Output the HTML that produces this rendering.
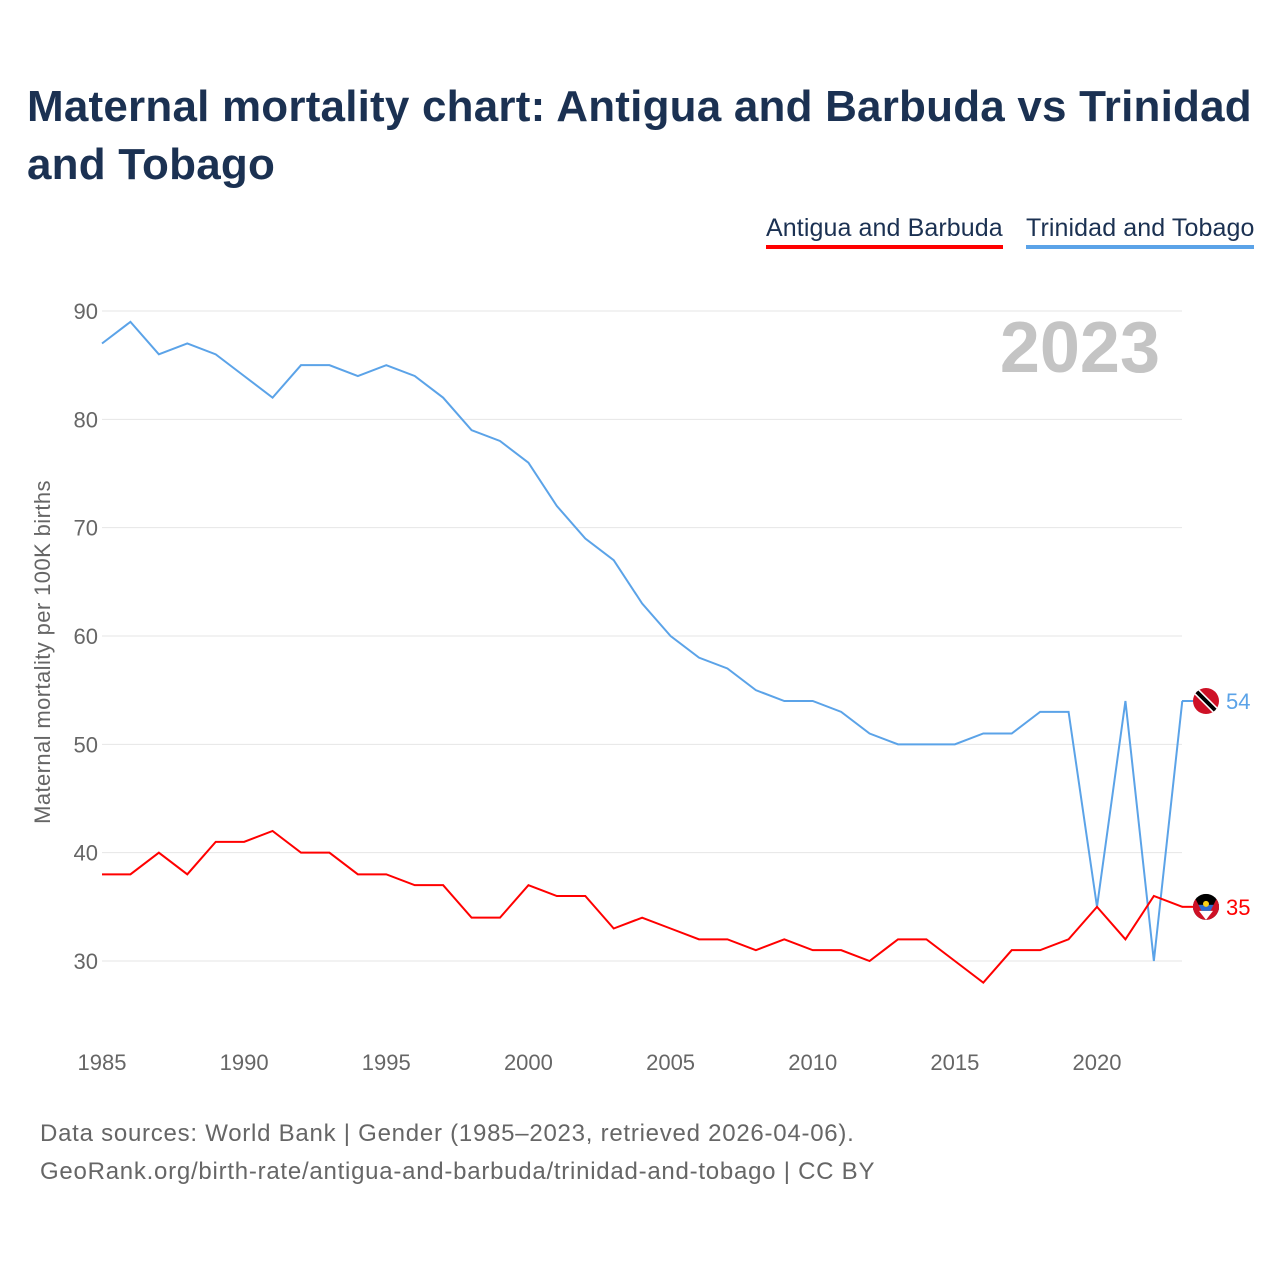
<!DOCTYPE html>
<html><head><meta charset="utf-8"><style>
body{margin:0;background:#fff;font-family:"Liberation Sans",sans-serif;}
#wrap{position:relative;width:1280px;height:1280px;overflow:hidden}
h1{position:absolute;left:27px;top:78px;margin:0;font-size:44px;line-height:58px;color:#1b3152;font-weight:bold;width:1240px;letter-spacing:0.2px}
.leg{position:absolute;top:214px;font-size:25px;color:#1b3152;padding-bottom:2px;letter-spacing:0.1px}
.src{position:absolute;left:40px;font-size:24px;color:#666;letter-spacing:0.75px}
</style></head><body><div id="wrap">
<h1>Maternal mortality chart: Antigua and Barbuda vs Trinidad and Tobago</h1>
<div class="leg" style="left:766px;border-bottom:4px solid #f00">Antigua and Barbuda</div>
<div class="leg" style="left:1026px;border-bottom:4px solid #5ba3e8">Trinidad and Tobago</div>
<svg id="svg" width="1280" height="1280" style="position:absolute;left:0;top:0"></svg>
<div class="src" style="top:1120px">Data sources: World Bank | Gender (1985–2023, retrieved 2026-04-06).</div>
<div class="src" style="top:1158px">GeoRank.org/birth-rate/antigua-and-barbuda/trinidad-and-tobago | CC BY</div>
</div>
<script>
const years=[];for(let y=1985;y<=2023;y++)years.push(y);
const trinidad=[87,89,86,87,86,84,82,85,85,84,85,84,82,79,78,76,72,69,67,63,60,58,57,55,54,54,53,51,50,50,50,51,51,53,53,35,54,30,54];
const antigua=[38,38,40,38,41,41,42,40,40,38,38,37,37,34,34,37,36,36,33,34,33,32,32,31,32,31,31,30,32,32,30,28,31,31,32,35,32,36,35];
const yTicks=[30,40,50,60,70,80,90];
const xTicks=[1985,1990,1995,2000,2005,2010,2015,2020];
const NS="http://www.w3.org/2000/svg";const svg=document.getElementById('svg');
const X=y=>102+(y-1985)*(995/35);const Y=v=>961-(v-30)*(650/60);
function mk(t,a,txt,parent){const e=document.createElementNS(NS,t);for(const k in a)e.setAttribute(k,a[k]);if(txt!=null)e.textContent=txt;(parent||svg).appendChild(e);return e;}
yTicks.forEach(v=>{
 const l=mk('line',{x1:102,x2:1182,y1:Y(v),y2:Y(v),stroke:'#e6e6e6','stroke-width':1});
 
 
 const t=mk('text',{x:98,y:Y(v)+8,'text-anchor':'end','font-size':22,fill:'#666'},v);
 
 
});
xTicks.forEach(v=>{
 const t=mk('text',{x:X(v),y:1070,'text-anchor':'middle','font-size':22,fill:'#666'},v);
 
 
});
const yt=mk('text',{x:0,y:0,transform:'translate(50,652) rotate(-90)','text-anchor':'middle','font-size':22,fill:'#666','letter-spacing':'0.4'},'Maternal mortality per 100K births');


const yr=mk('text',{x:1160,y:372,'text-anchor':'end','font-size':72,'font-weight':'bold',fill:'#c4c4c4'},'2023');


const defs=mk('defs',{});
function series(d,c,name){
 const p=mk('polyline',{points:d.map((v,i)=>X(years[i])+','+Y(v)).join(' '),fill:'none',stroke:c,'stroke-width':2});
 
 
 const last=d[d.length-1],ly=Y(last);
 const ln=mk('line',{x1:1182,x2:1194,y1:ly,y2:ly,stroke:c,'stroke-width':2});
 
 
 const cp=mk('clipPath',{id:'clip-'+name},null,defs);
 mk('circle',{cx:1206,cy:ly,r:13},null,cp);
 const g=mk('g',{'clip-path':'url(#clip-'+name+')'});
 
 
 if(name=='trinidad'){
  mk('rect',{x:1193,y:ly-13,width:26,height:26,fill:'#ce1126'},null,g);
  mk('line',{x1:1196,y1:ly-10,x2:1216,y2:ly+10,stroke:'#fff','stroke-width':7},null,g);
  mk('line',{x1:1196,y1:ly-10,x2:1216,y2:ly+10,stroke:'#000','stroke-width':4},null,g);
 } else {
  mk('rect',{x:1193,y:ly-13,width:26,height:26,fill:'#000'},null,g);
  mk('rect',{x:1193,y:ly-2,width:26,height:6,fill:'#2a6ad0'},null,g);
  mk('path',{d:`M1193 ${ly-13} L1206 ${ly+13} L1193 ${ly+13}Z M1219 ${ly-13} L1206 ${ly+13} L1219 ${ly+13}Z`,fill:'#ce1126'},null,g);
  mk('path',{d:`M1199 ${ly+4} L1213 ${ly+4} L1206 ${ly+13}Z`,fill:'#fff'},null,g);
  mk('circle',{cx:1206,cy:ly-3,r:3,fill:'#fcd116'},null,g);
 }
 const t=mk('text',{x:1226,y:ly+8,'font-size':22,fill:c},last);
 
 
}
series(trinidad,'#5ba3e8','trinidad');
series(antigua,'#ff0000','antigua');
</script></body></html>
